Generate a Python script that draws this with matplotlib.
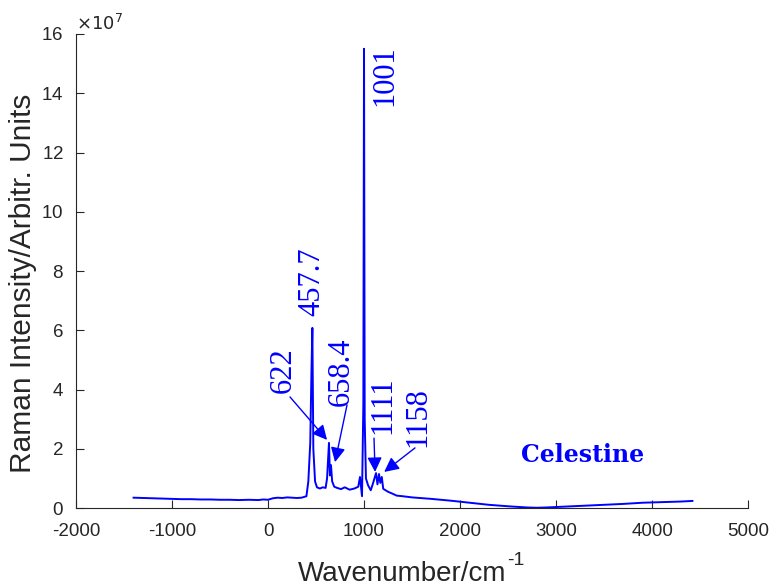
"""Raman spectrum of celestine with labelled peaks."""
import numpy as np
import matplotlib
matplotlib.use('Agg')
from matplotlib import pyplot as plt
from matplotlib.ticker import ScalarFormatter

plt.rcParams['axes.unicode_minus'] = False

#
# Data (intensity in units of 1e7)
#
wavenumber = [-1400, -1300, -1200, -1100, -1000, -900, -800, -700, -600, -500,
              -400, -300, -200, -100, -50, 0, 50, 100, 150, 200, 250, 300,
              350, 400, 420, 440, 452, 462, 472, 490, 510, 540, 570, 600,
              615, 635, 645, 656, 668, 690, 720, 760, 800, 850, 900, 940,
              958, 979, 993, 1000, 1007, 1020, 1042, 1070, 1095, 1125, 1140,
              1156, 1170, 1185, 1200, 1250, 1300, 1340, 1400, 1500, 1700,
              1900, 2100, 2300, 2500, 2700, 2800, 2900, 3100, 3300, 3500,
              3700, 3900, 4100, 4300, 4420]
intensity = [0.35, 0.34, 0.33, 0.32, 0.31, 0.30, 0.30, 0.29, 0.29, 0.28,
             0.28, 0.27, 0.28, 0.27, 0.29, 0.28, 0.33, 0.35, 0.34, 0.36,
             0.35, 0.34, 0.35, 0.40, 0.9, 2.2, 4.5, 6.08, 2.0, 0.9, 0.70,
             0.66, 0.70, 0.68, 1.0, 2.2, 1.1, 1.45, 0.9, 0.72, 0.68, 0.64,
             0.70, 0.62, 0.66, 0.72, 1.05, 0.40, 3.5, 15.5, 3.0, 1.0, 0.77,
             0.6, 0.85, 1.18, 0.8, 1.15, 0.85, 1.05, 0.65, 0.55, 0.48,
             0.42, 0.40, 0.36, 0.31, 0.25, 0.18, 0.11, 0.06, 0.02, 0.01,
             0.02, 0.05, 0.08, 0.11, 0.14, 0.18, 0.20, 0.22, 0.24]

# peak labels: text, text position, arrow tail, arrow head (None = no arrow)
peak_labels = ['457.7', '1001', '622', '658.4', '1111', '1158']
label_pos = [(458, 7.63), (1219, 14.6), (156, 4.66), (760, 4.6),
             (1198, 3.48), (1563, 3.07)]
arrow_tail = [None, None, (229, 3.75), (823, 3.48), (1104, 2.36), (1531, 2.03)]
arrow_head = [None, None, (615, 2.3), (698, 1.55), (1115, 1.22), (1210, 1.22)]

blue = '#0000ff'
axcol = '#262626'

#
# Plot
#
fig = plt.figure(figsize=(7.69, 5.86), dpi=100)
ax = fig.add_axes([0.0988, 0.133, 0.874, 0.809])

ax.plot(wavenumber, np.array(intensity) * 1e7, '-', color=blue, lw=1.4)

for lab, pos, tail, head in zip(peak_labels, label_pos, arrow_tail, arrow_head):
    ax.text(pos[0], pos[1] * 1e7, lab, rotation=90, ha='center', va='center',
            color=blue, fontsize=22, family='Liberation Serif')
    if tail is not None:
        ax.annotate('', xy=(head[0], head[1] * 1e7),
                    xytext=(tail[0], tail[1] * 1e7),
                    arrowprops=dict(arrowstyle='-|>', color=blue, lw=1,
                                    mutation_scale=22, shrinkA=0, shrinkB=0))

ax.text(3271, 1.79e7, 'Celestine', color=blue, fontsize=17,
        fontweight='bold', family='DejaVu Serif', ha='center', va='center')

ax.set_xlim(-2000, 5000)
ax.set_ylim(0, 16e7)
ax.set_xticks(range(-2000, 5001, 1000))
ax.set_yticks(np.arange(0, 16.1, 2) * 1e7)
fmt = ScalarFormatter(useMathText=True)
fmt.set_powerlimits((7, 7))
ax.yaxis.set_major_formatter(fmt)
ax.yaxis.get_offset_text().set_fontsize(13)
ax.yaxis.get_offset_text().set_color(axcol)

ax.spines['top'].set_visible(False)
ax.spines['right'].set_visible(False)
for s in ('left', 'bottom'):
    ax.spines[s].set_color(axcol)
ax.tick_params(direction='in', length=6, labelsize=13.5, colors=axcol,
               labelcolor=axcol)
ax.tick_params(axis='x', pad=11)
ax.tick_params(axis='y', pad=9)

ax.set_xlabel('Wavenumber/cm', fontsize=20, family='Liberation Sans',
              color=axcol)
ax.xaxis.set_label_coords(0.485, -0.112)
ax.annotate('-1', xy=(1, 1), xycoords=ax.xaxis.label, xytext=(1, -6),
            textcoords='offset points', ha='left', va='bottom', fontsize=14,
            family='Liberation Sans', color=axcol)
ax.set_ylabel('Raman Intensity/Arbitr. Units', fontsize=21.5,
              family='Liberation Sans', color=axcol)
ax.yaxis.set_label_coords(-0.058, 0.475)
for lab in ax.get_xticklabels() + ax.get_yticklabels():
    lab.set_family('Liberation Sans')

plt.savefig('out.png', dpi=100)
